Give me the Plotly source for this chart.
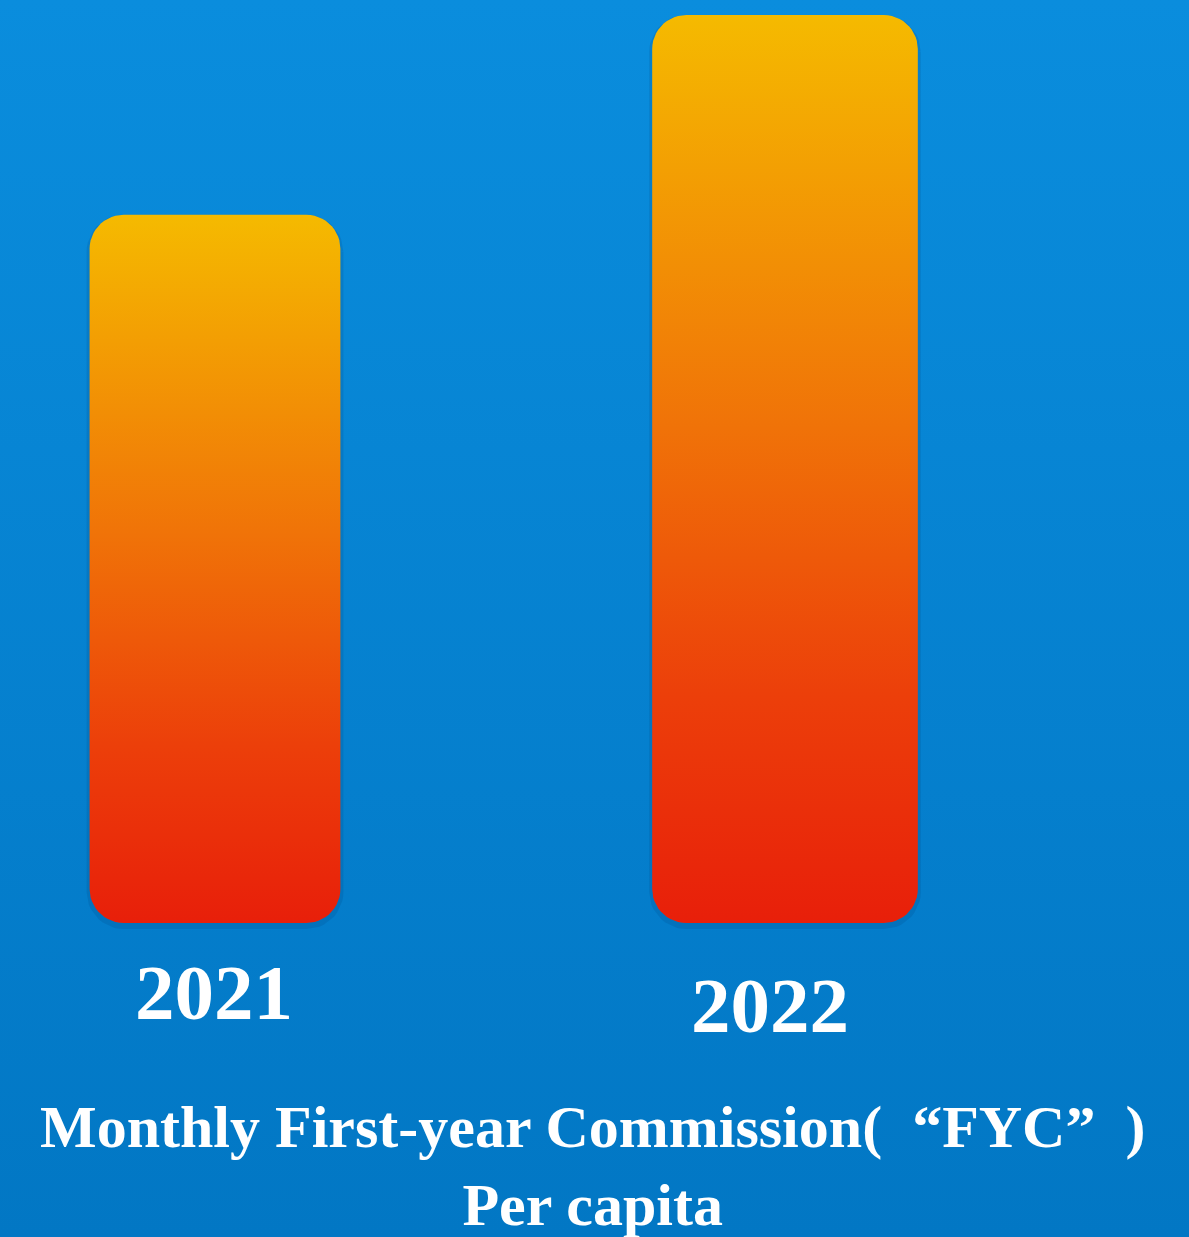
import numpy as np
import plotly.graph_objects as go

# Data
years = ["2021", "2022"]
fyc_per_capita = [7.8, 10.0]
title_lines = ["Monthly First-year Commission(  “FYC”  )", "Per capita"]

# Styling
W, H = 1189, 1237
bar_half_widths = [0.22, 0.233]
corner_px = 34
px_per_x = 570.0
px_per_y = 90.8
x_range = [-215 / px_per_x, 1 + (W - 785) / px_per_x]
y_range = [-(H - 923) / px_per_y, max(fyc_per_capita) + 15 / px_per_y]

bar_scale = [[0.0, "#E81F0A"], [0.25, "#EC3F0A"], [0.55, "#F07308"], [1.0, "#F5BA00"]]
bg_scale = [[0.0, "#0277C4"], [1.0, "#0A8DDD"]]


def rounded_rect(x0, x1, y0, y1, rx, ry, n=14):
    """Closed outline of a rectangle with rounded corners (data units)."""
    xs, ys = [], []
    corners = [
        (x1 - rx, y1 - ry, 0, 90),
        (x0 + rx, y1 - ry, 90, 180),
        (x0 + rx, y0 + ry, 180, 270),
        (x1 - rx, y0 + ry, 270, 360),
    ]
    for cx, cy, a0, a1 in corners:
        t = np.radians(np.linspace(a0, a1, n))
        xs.extend(cx + rx * np.cos(t))
        ys.extend(cy + ry * np.sin(t))
    xs.append(xs[0])
    ys.append(ys[0])
    return xs, ys


fig = go.Figure()

# Background panel with a vertical blue gradient
fig.add_trace(go.Scatter(
    x=[x_range[0], x_range[1], x_range[1], x_range[0], x_range[0]],
    y=[y_range[0], y_range[0], y_range[1], y_range[1], y_range[0]],
    mode="lines", line=dict(width=0), fill="toself",
    fillgradient=dict(type="vertical", colorscale=bg_scale),
    hoverinfo="skip", showlegend=False,
))

rx = corner_px / px_per_x
ry = corner_px / px_per_y
for i, (yr, val) in enumerate(zip(years, fyc_per_capita)):
    hw = bar_half_widths[i]
    xs, ys = rounded_rect(i - hw, i + hw, 0, val, rx, ry)
    # soft drop shadow under each bar
    fig.add_trace(go.Scatter(
        x=xs, y=[v - 3 / px_per_y for v in ys], mode="lines",
        line=dict(width=6, color="rgba(0,40,90,0.12)"),
        hoverinfo="skip", showlegend=False,
    ))
    fig.add_trace(go.Scatter(
        x=xs, y=ys, mode="lines", line=dict(width=0), fill="toself",
        fillgradient=dict(type="vertical", colorscale=bar_scale),
        name=yr, hoverinfo="name", showlegend=False,
    ))

label_offsets = [(-1, -69), (-15, -82)]
for i, yr in enumerate(years):
    dx, dy = label_offsets[i]
    fig.add_annotation(
        x=i, y=0, xref="x", yref="y", text=f"<b>{yr}</b>", showarrow=False,
        xshift=dx, yshift=dy, xanchor="center", yanchor="middle",
        font=dict(family="Liberation Serif", size=79, color="white"),
    )

fig.add_annotation(
    x=0.498, y=(H - 1166) / H, xref="paper", yref="paper",
    text="<b>" + "<br>".join(title_lines) + "</b>", showarrow=False,
    xanchor="center", yanchor="middle", align="center",
    font=dict(family="Liberation Serif", size=60, color="white"),
)

fig.update_xaxes(range=x_range, visible=False, fixedrange=True)
fig.update_yaxes(range=y_range, visible=False, fixedrange=True)
fig.update_layout(
    width=W, height=H, margin=dict(l=0, r=0, t=0, b=0),
    paper_bgcolor="#0782D2", plot_bgcolor="#0782D2",
)

fig.write_html("out.html", config={"displayModeBar": False})
